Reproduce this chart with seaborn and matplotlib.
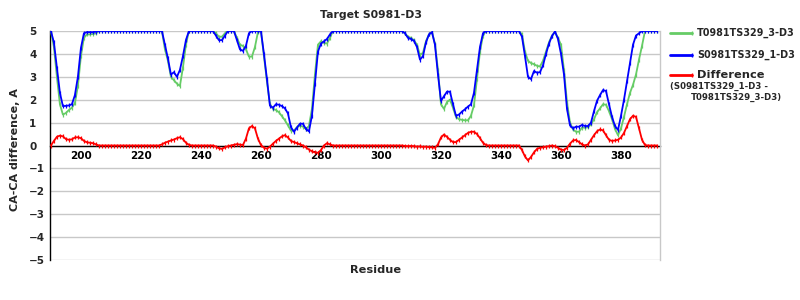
import matplotlib
matplotlib.use("Agg")
import matplotlib.pyplot as plt
import seaborn as sns
import pandas as pd
from matplotlib.lines import Line2D

# ---------------- data ----------------
residues = list(range(190, 393))

s_values = [  # S0981TS329_1-D3 (blue)
    5.0, 4.5, 3.4, 2.3, 1.72, 1.73, 1.75, 1.8, 2.2, 3.0,
    4.25, 4.9, 4.95, 4.95, 4.95, 4.97, 5.0, 5.0, 5.0, 5.0,
    5.0, 5.0, 5.0, 5.0, 5.0, 5.0, 5.0, 5.0, 5.0, 5.0,
    5.0, 5.0, 5.0, 5.0, 5.0, 5.0, 5.0, 5.0, 4.4, 3.8,
    3.1, 3.2, 3.0, 3.3, 3.9, 4.6, 5.0, 5.0, 5.0, 5.0,
    5.0, 5.0, 5.0, 5.0, 5.0, 4.8, 4.6, 4.6, 4.8, 5.0,
    5.0, 5.0, 4.6, 4.2, 4.13, 4.35, 4.9, 5.0, 5.0, 5.0,
    5.0, 4.0, 2.9, 1.74, 1.65, 1.8, 1.78, 1.72, 1.62, 1.4,
    0.8, 0.6, 0.78, 0.95, 0.95, 0.72, 0.62, 1.3, 2.7, 4.1,
    4.45, 4.55, 4.65, 4.85, 5.0, 5.0, 5.0, 5.0, 5.0, 5.0,
    5.0, 5.0, 5.0, 5.0, 5.0, 5.0, 5.0, 5.0, 5.0, 5.0,
    5.0, 5.0, 5.0, 5.0, 5.0, 5.0, 5.0, 5.0, 4.9, 4.7,
    4.65, 4.57, 4.3, 3.75, 3.9, 4.5, 4.85, 4.95, 4.4, 3.1,
    1.95, 2.15, 2.35, 2.35, 1.8, 1.3, 1.35, 1.48, 1.58, 1.7,
    1.8, 2.3, 3.3, 4.3, 4.9, 5.0, 5.0, 5.0, 5.0, 5.0,
    5.0, 5.0, 5.0, 5.0, 5.0, 5.0, 5.0, 4.75, 3.9, 3.0,
    2.9, 3.25, 3.18, 3.2, 3.5, 4.0, 4.45, 4.78, 4.98, 4.65,
    4.0, 3.1, 1.6, 0.88, 0.75, 0.82, 0.82, 0.9, 0.85, 0.85,
    1.0, 1.5, 1.95, 2.2, 2.42, 2.38, 1.8, 1.25, 0.85, 0.68,
    1.3, 2.0, 2.8, 3.6, 4.4, 4.8, 4.9, 5.0, 5.0, 5.0,
    5.0, 5.0, 5.0,
]

t_values = [  # T0981TS329_3-D3 (green)
    5.0, 4.3, 3.0, 1.8, 1.35, 1.42, 1.55, 1.65, 1.85, 2.6,
    3.9, 4.7, 4.85, 4.85, 4.87, 4.9, 5.0, 5.0, 5.0, 5.0,
    5.0, 5.0, 5.0, 5.0, 5.0, 5.0, 5.0, 5.0, 5.0, 5.0,
    5.0, 5.0, 5.0, 5.0, 5.0, 5.0, 5.0, 5.0, 4.2, 3.7,
    3.0, 2.85, 2.7, 2.6, 3.4, 4.4, 5.0, 5.0, 5.0, 5.0,
    5.0, 5.0, 5.0, 5.0, 5.0, 4.9, 4.75, 4.75, 4.9, 5.0,
    5.0, 5.0, 4.7, 4.4, 4.35, 4.2, 3.88, 3.88, 4.3, 4.95,
    5.0, 3.9, 2.8, 1.8, 1.6, 1.55, 1.45, 1.28, 1.1, 0.88,
    0.65, 0.65, 0.8, 0.87, 0.82, 0.72, 0.85, 1.6, 3.1, 4.4,
    4.55, 4.48, 4.45, 4.7, 5.0, 5.0, 5.0, 5.0, 5.0, 5.0,
    5.0, 5.0, 5.0, 5.0, 5.0, 5.0, 5.0, 5.0, 5.0, 5.0,
    5.0, 5.0, 5.0, 5.0, 5.0, 5.0, 5.0, 5.0, 4.9, 4.75,
    4.7, 4.6, 4.4, 3.95, 4.05, 4.55, 4.85, 4.95, 4.45, 3.3,
    1.8, 1.6, 1.9, 2.0, 1.65, 1.25, 1.15, 1.12, 1.1, 1.1,
    1.3, 1.75, 2.9, 4.1, 4.8, 5.0, 5.0, 5.0, 5.0, 5.0,
    5.0, 5.0, 5.0, 5.0, 5.0, 5.0, 5.0, 4.85, 4.1, 3.7,
    3.6, 3.55, 3.48, 3.45, 3.7, 4.1, 4.5, 4.8, 4.95, 4.7,
    4.4, 3.3, 1.9, 1.0, 0.7, 0.6, 0.6, 0.78, 0.78, 0.8,
    0.92, 1.15, 1.45, 1.62, 1.8, 1.78, 1.5, 1.15, 0.72, 0.45,
    0.75, 1.25, 1.8, 2.3, 2.65, 3.1, 3.75, 4.35, 5.0, 5.0,
    5.0, 5.0, 5.0,
]

diff_values = [  # Difference (red)
    0.0, 0.2, 0.38, 0.43, 0.4, 0.28, 0.25, 0.27, 0.35, 0.36,
    0.32, 0.2, 0.14, 0.12, 0.1, 0.05, 0.0, 0.0, 0.0, 0.0,
    0.0, 0.0, 0.0, 0.0, 0.0, 0.0, 0.0, 0.0, 0.0, 0.0,
    0.0, 0.0, 0.0, 0.0, 0.0, 0.0, 0.0, 0.05, 0.12, 0.17,
    0.22, 0.26, 0.32, 0.36, 0.28, 0.12, 0.03, 0.0, 0.0, 0.0,
    0.0, 0.0, 0.0, 0.0, 0.0, -0.05, -0.12, -0.15, -0.08, -0.03,
    0.0, 0.03, 0.06, 0.04, 0.02, 0.3, 0.75, 0.85, 0.75, 0.3,
    0.02, -0.1, -0.14, -0.05, 0.08, 0.2, 0.3, 0.4, 0.45, 0.35,
    0.2, 0.15, 0.1, 0.05, 0.0, -0.08, -0.18, -0.25, -0.3, -0.32,
    -0.2, 0.0, 0.1, 0.05, 0.0, 0.0, 0.0, 0.0, 0.0, 0.0,
    0.0, 0.0, 0.0, 0.0, 0.0, 0.0, 0.0, 0.0, 0.0, 0.0,
    0.0, 0.0, 0.0, 0.0, 0.0, 0.0, 0.0, 0.0, -0.02, -0.03,
    -0.02, -0.03, -0.05, -0.04, -0.06, -0.05, -0.07, -0.08, -0.1, 0.05,
    0.35, 0.48, 0.38, 0.25, 0.15, 0.15, 0.25, 0.35, 0.45, 0.55,
    0.6, 0.6, 0.5, 0.32, 0.12, 0.02, 0.0, 0.0, 0.0, 0.0,
    0.0, 0.0, 0.0, 0.0, 0.0, 0.0, 0.0, -0.2, -0.48, -0.65,
    -0.5, -0.3, -0.15, -0.1, -0.08, -0.05, -0.03, 0.0, -0.03, -0.1,
    -0.18, -0.2, -0.1, 0.08, 0.22, 0.24, 0.15, 0.05, 0.0, 0.05,
    0.25, 0.45, 0.62, 0.7, 0.66, 0.45, 0.25, 0.2, 0.22, 0.25,
    0.35, 0.55, 0.85, 1.15, 1.3, 1.25, 0.75, 0.25, 0.02, 0.0,
    0.0, 0.0, 0.0,
]

series_labels = ["T0981TS329_3-D3", "S0981TS329_1-D3", "Difference"]
diff_note = ["(S0981TS329_1-D3 -", "T0981TS329_3-D3)"]
title_text = "Target S0981-D3"
x_label = "Residue"
y_label = "CA-CA difference, A"
y_ticks = [-5, -4, -3, -2, -1, 0, 1, 2, 3, 4, 5]
x_major = [200, 220, 240, 260, 280, 300, 320, 340, 360, 380]
x_minor = [190, 210, 230, 250, 270, 290, 310, 330, 350, 370, 390]

colors = ["#66cc66", "#0000ff", "#ff0000"]

# ---------------- figure ----------------
sns.set_style("white")
plt.rcParams["font.family"] = ["DejaVu Sans"]

fig = plt.figure(figsize=(8, 3), dpi=100)
ax = fig.add_axes([50 / 800, 40 / 300, 610 / 800, 229 / 300])

df = pd.DataFrame({"Residue": residues, "T": t_values, "S": s_values, "D": diff_values})

for col, c in zip(["T", "S", "D"], colors):
    sns.lineplot(data=df, x="Residue", y=col, color=c, lw=1.3, marker="|",
                 markersize=3.0, markeredgewidth=0.9, markeredgecolor=c,
                 ax=ax, legend=False, zorder=3)

ax.set_xlim(189.7, 393)
ax.set_ylim(-5, 5)
ax.set_yticks(y_ticks)
ax.set_xticks(x_major)
ax.set_xticks(x_minor, minor=True)
ax.yaxis.grid(True, color="#c8c8c8", lw=1)
ax.xaxis.grid(False)
ax.set_axisbelow(True)

ax.spines["top"].set_visible(False)
ax.spines["right"].set_color("#c8c8c8")
ax.spines["right"].set_linewidth(1)
ax.spines["left"].set_color("black")
ax.spines["left"].set_linewidth(1)
ax.spines["bottom"].set_position(("data", 0))
ax.spines["bottom"].set_color("black")
ax.spines["bottom"].set_linewidth(1)
ax.spines["bottom"].set_zorder(2)

ax.tick_params(axis="x", which="major", length=0, pad=4, labelsize=7.5, colors="black")
ax.tick_params(axis="x", which="minor", length=4, width=1, color="#b4b4b4", direction="out")
ax.tick_params(axis="y", length=0, pad=15, labelsize=7.5)
for lbl in ax.get_xticklabels():
    lbl.set_fontweight("bold")
for lbl in ax.get_yticklabels():
    lbl.set_fontweight("bold")
    lbl.set_horizontalalignment("left")

ax.set_xlabel("")
ax.set_ylabel("")

fig.text(371 / 800, 1 - 15 / 300, title_text, ha="center", va="center",
         fontsize=7.8, fontweight="bold")
fig.text(376 / 800, 1 - 270 / 300, x_label, ha="center", va="center",
         fontsize=8.2, fontweight="bold")
fig.text(15 / 800, 1 - 150 / 300, y_label, ha="center", va="center",
         rotation=90, fontsize=8, fontweight="bold")

# legend (manual)
leg_y = [33, 55, 75]
for lab, c, yy in zip(series_labels, colors, leg_y):
    fig.add_artist(Line2D([670 / 800, 692 / 800], [1 - yy / 300] * 2,
                          transform=fig.transFigure, color=c, lw=2,
                          marker="|", markersize=3.5, markevery=[1]))
    fig.text(697 / 800, 1 - yy / 300, lab, ha="left", va="center",
             fontsize=6.9 if lab != "Difference" else 8.2, fontweight="bold")
fig.text(670 / 800, 1 - 86 / 300, diff_note[0], ha="left", va="center",
         fontsize=6.2, fontweight="bold")
fig.text(691 / 800, 1 - 97 / 300, diff_note[1], ha="left", va="center",
         fontsize=6.2, fontweight="bold")

fig.savefig("out.png", dpi=100)
